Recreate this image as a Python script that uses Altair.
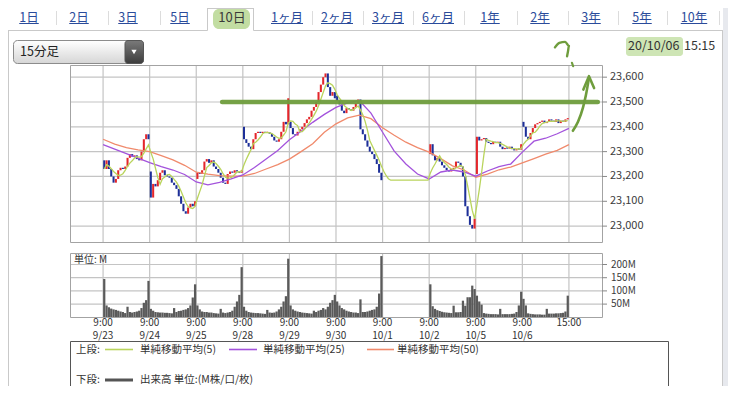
import altair as alt
import numpy as np
import pandas as pd

# ------------------------------------------------------------------ data
dates = ["9/23", "9/24", "9/25", "9/28", "9/29", "9/30", "10/1", "10/2", "10/5", "10/6"]
BARS_PER_DAY = 20  # 15-minute bars, 9:00-11:30 and 12:30-15:00

# opening price of the first bar of each day
day_open = [23265, 23220, 23190, 23400, 23420, 23525, 23185, 23290, 23210, 23420]

close_0923 = [23230, 23265, 23230, 23200, 23175, 23190, 23225, 23235, 23230, 23240,
              23275, 23290, 23280, 23285, 23270, 23265, 23300, 23350, 23370, 23350]
close_0924 = [23115, 23170, 23160, 23185, 23215, 23225, 23205, 23200, 23195, 23175,
              23165, 23150, 23120, 23090, 23060, 23050, 23075, 23090, 23080, 23100]
close_0925 = [23215, 23210, 23225, 23260, 23270, 23255, 23265, 23240, 23230, 23215,
              23195, 23175, 23170, 23210, 23220, 23215, 23225, 23220, 23215, 23225]
close_0928 = [23350, 23335, 23320, 23310, 23350, 23375, 23380, 23375, 23380, 23375,
              23378, 23372, 23360, 23345, 23340, 23350, 23380, 23420, 23410, 23515]
close_0929 = [23395, 23370, 23365, 23380, 23390, 23400, 23415, 23430, 23440, 23465,
              23480, 23500, 23540, 23570, 23600, 23615, 23560, 23525, 23540, 23515]
close_0930 = [23505, 23490, 23465, 23455, 23475, 23470, 23465, 23480, 23495, 23510,
              23390, 23370, 23345, 23320, 23300, 23290, 23270, 23250, 23215, 23185]
close_1001 = [23185, 23185, 23185, 23185, 23185, 23185, 23185, 23185, 23185, 23185,
              23185, 23185, 23185, 23185, 23185, 23185, 23185, 23185, 23185, 23185]
close_1002 = [23330, 23285, 23265, 23275, 23260, 23245, 23235, 23225, 23220, 23230,
              23235, 23260, 23255, 23240, 23200, 23080, 23040, 23005, 22990, 23030]
close_1005 = [23360, 23345, 23350, 23355, 23340, 23335, 23330, 23340, 23335, 23340,
              23320, 23310, 23315, 23312, 23320, 23310, 23305, 23310, 23308, 23330]
close_1006 = [23400, 23360, 23350, 23375, 23395, 23410, 23415, 23420, 23425, 23415,
              23420, 23430, 23425, 23420, 23430, 23415, 23425, 23420, 23430, 23435]

# volume in millions
vol_0923 = [145, 45, 38, 33, 30, 28, 25, 22, 20, 16, 40, 20, 18, 20, 22, 25, 35, 55, 65, 138]
vol_0924 = [32, 25, 20, 19, 18, 18, 17, 17, 16, 15, 35, 20, 24, 25, 28, 30, 35, 45, 75, 125]
vol_0925 = [45, 30, 22, 20, 20, 18, 18, 16, 15, 14, 32, 18, 16, 18, 20, 25, 40, 60, 85, 190]
vol_0928 = [40, 25, 20, 18, 17, 16, 16, 15, 14, 13, 28, 18, 17, 18, 22, 30, 40, 60, 80, 222]
vol_0929 = [45, 30, 25, 22, 20, 18, 17, 16, 15, 14, 25, 20, 25, 28, 35, 30, 40, 55, 65, 85]
vol_0930 = [60, 45, 35, 30, 25, 22, 20, 18, 18, 16, 68, 20, 20, 22, 25, 28, 30, 40, 90, 232]
vol_1001 = [0, 0, 0, 0, 0, 0, 0, 0, 0, 0, 0, 0, 0, 0, 0, 0, 0, 0, 0, 0]
vol_1002 = [125, 42, 32, 27, 24, 21, 19, 18, 17, 16, 44, 19, 19, 20, 63, 44, 76, 76, 120, 107]
vol_1005 = [82, 60, 48, 16, 14, 13, 12, 12, 12, 11, 32, 12, 12, 12, 12, 13, 14, 20, 45, 97]
vol_1006 = [70, 45, 15, 13, 12, 11, 11, 11, 10, 10, 32, 14, 14, 14, 15, 15, 16, 17, 22, 82]

# moving averages read every 5 bars
SMA_STEP = 5
sma25 = [23328, 23310, 23292, 23274, 23256, 23240, 23226, 23208, 23178, 23166,
         23176, 23190, 23206, 23236, 23270, 23305, 23348, 23382, 23418, 23450,
         23478, 23496, 23506, 23455, 23378, 23302, 23250, 23210, 23190, 23218,
         23226, 23218, 23201, 23222, 23240, 23250, 23298, 23342, 23354, 23372, 23394]
sma50 = [23350, 23330, 23316, 23307, 23300, 23284, 23267, 23245, 23217, 23209,
         23203, 23201, 23201, 23212, 23230, 23248, 23270, 23300, 23332, 23378,
         23412, 23436, 23447, 23433, 23396, 23366, 23338, 23316, 23298, 23272,
         23243, 23226, 23197, 23209, 23227, 23238, 23255, 23272, 23290, 23305, 23328]

price_ticks = [23000, 23100, 23200, 23300, 23400, 23500, 23600]
vol_ticks = [50, 100, 150, 200]
vol_tick_labels = ["50M", "100M", "150M", "200M"]

tabs = ["1日", "2日", "3日", "5日", "10日", "1ヶ月", "2ヶ月", "3ヶ月", "6ヶ月",
        "1年", "2年", "3年", "5年", "10年"]
selected_tab = "10日"

# hand-drawn annotation (bar index, price)
note_line_idx = [51.1, 212.4]
note_line_price = [23500, 23500]
arrow_idx = [201.7, 203.9, 206.0, 207.3, 208.6]
arrow_price = [23384, 23420, 23476, 23528, 23596]
arrowhead_idx = [206.2, 208.6, 210.8]
arrowhead_price = [23550, 23604, 23556]
qmark_idx = [194.0, 195.9, 198.4, 200.0, 199.6, 199.2]
qmark_price = [23720, 23738, 23742, 23726, 23704, 23684]
dot_idx = [201.3, 201.8]
dot_price = [23658, 23644]

# ------------------------------------------------------------------ tables
closes = [close_0923, close_0924, close_0925, close_0928, close_0929,
          close_0930, close_1001, close_1002, close_1005, close_1006]
vols = [vol_0923, vol_0924, vol_0925, vol_0928, vol_0929,
        vol_0930, vol_1001, vol_1002, vol_1005, vol_1006]
rows = []
for d in range(len(dates)):
    for b in range(BARS_PER_DAY):
        o = day_open[d] if b == 0 else closes[d][b - 1]
        rows.append({"i": d * BARS_PER_DAY + b, "o": o, "c": closes[d][b], "v": vols[d][b]})
bars = pd.DataFrame(rows)
bars["sma5"] = bars["c"].rolling(5, min_periods=1).mean()
bars["xc"] = bars["i"] + 0.5
bars["x0"] = bars["i"] + 0.06
bars["x1"] = bars["i"] + 0.94
bars["vx0"] = bars["i"] + 0.02
bars["vx1"] = bars["i"] + 0.98
bars["dir"] = np.where(bars["c"] >= bars["o"], "up", "down")
bars["lo"] = np.minimum(bars["o"], bars["c"])
bars["hi"] = np.maximum(np.maximum(bars["o"], bars["c"]), bars["lo"] + 5)
traded = bars[bars["v"] > 0]

sma_df = pd.DataFrame({"x": [k * SMA_STEP for k in range(len(sma25))], "s25": sma25, "s50": sma50})
n_days = len(dates)
xlab = pd.DataFrame({"i": [d * BARS_PER_DAY for d in range(n_days + 1)],
                     "t": ["9:00"] * n_days + ["15:00"],
                     "d": dates + [""]})
pt_df = pd.DataFrame({"v": price_ticks})
vt_df = pd.DataFrame({"v": vol_ticks, "t": vol_tick_labels})

# ------------------------------------------------------------------ styles
F = "Noto Sans CJK JP"
C_UP, C_DN = "#e4262b", "#1d2f98"
C5, C25, C50 = "#b9d45c", "#a353dc", "#f08a6c"
GRID = "#c4c4c4"
GREEN = "#6f9d3d"

X = alt.Scale(domain=[-14.2, 214.2], range=[62, 594], nice=False, zero=False)
YP = alt.Scale(domain=[22936, 23649], range=[234, 57], nice=False, zero=False)
YV = alt.Scale(domain=[0, 243.6], range=[309.3, 245], nice=False, zero=False)

one = pd.DataFrame({"k": [0]})


def xq(f):
    return alt.X(f, type="quantitative", scale=X, axis=None)


def yp(f):
    return alt.Y(f, type="quantitative", scale=YP, axis=None)


def yv(f):
    return alt.Y(f, type="quantitative", scale=YV, axis=None)


def rect(x, x2, y, y2, **kw):
    return alt.Chart(one).mark_rect(**kw).encode(
        x=alt.value(x), x2=alt.value(x2), y=alt.value(y), y2=alt.value(y2))


def hline(x, x2, y, **kw):
    return alt.Chart(one).mark_rule(**kw).encode(x=alt.value(x), x2=alt.value(x2), y=alt.value(y))


def vline(x, y, y2, **kw):
    return alt.Chart(one).mark_rule(**kw).encode(x=alt.value(x), y=alt.value(y), y2=alt.value(y2))


def text(x, y, s, **kw):
    kw.setdefault("font", F)
    kw.setdefault("baseline", "middle")
    return alt.Chart(one).mark_text(text=s, **kw).encode(x=alt.value(x), y=alt.value(y))


def path(xs, ps, **kw):
    df = pd.DataFrame({"x": xs, "p": ps, "o": list(range(len(xs)))})
    return alt.Chart(df).mark_line(strokeCap="round", strokeJoin="round", **kw).encode(
        x=xq("x"), y=yp("p"), order=alt.Order("o:Q"))


def text_w(s, fs):
    return sum(0.56 * fs if ch.isascii() else fs for ch in s)


L = []

# ---------------- page chrome
L.append(rect(715, 720, 0, 378, fill="#e7e9ee"))
L.append(vline(714.5, 22, 378, color="#c9c9c9"))
L.append(vline(0.5, 22, 378, color="#c9c9c9"))
L.append(hline(0, 199.5, 22.5, color="#c9c9c9"))
L.append(hline(245.5, 714.5, 22.5, color="#c9c9c9"))

TAB_CENTERS_PX = [21, 71, 120, 172, 224, 279, 329, 380, 430, 482, 532, 583, 634, 686]
SEPARATORS_PX = [48, 100, 152, 304, 355, 405, 456, 509, 560, 610, 659, 711]
for sx in SEPARATORS_PX:
    L.append(vline(sx + 0.5, 3, 17, color="#dcdcdc"))
# selected tab box + marker highlight
L.append(vline(199.5, 0, 22.5, color="#c9c9c9"))
L.append(vline(245.5, 0, 22.5, color="#c9c9c9"))
L.append(hline(199.5, 245.5, 0.5, color="#c9c9c9"))
L.append(rect(205, 242, 1, 21, fill="#b3d58b", opacity=0.8, cornerRadius=6))
for lab, cx in zip(tabs, TAB_CENTERS_PX):
    fs = 12.5
    if lab == selected_tab:
        L.append(text(cx, 10, lab, fontSize=13, color="#3a3a3a", align="center"))
    else:
        L.append(text(cx, 10, lab, fontSize=fs, color="#2a4b9b", align="center"))
        w = text_w(lab, fs) / 2
        L.append(hline(cx - w, cx + w, 15.5, color="#2a4b9b", strokeWidth=1))

# dropdown
grad_light = alt.Gradient(gradient="linear", x1=0, x2=0, y1=0, y2=1,
                          stops=[alt.GradientStop(color="#ffffff", offset=0),
                                 alt.GradientStop(color="#d6d6d6", offset=1)])
grad_dark = alt.Gradient(gradient="linear", x1=0, x2=0, y1=0, y2=1,
                         stops=[alt.GradientStop(color="#7a7a7a", offset=0),
                                alt.GradientStop(color="#3c3c3c", offset=1)])
L.append(rect(5.5, 135.5, 32.5, 55.5, fill=grad_light, stroke="#8c8c8c", cornerRadius=4))
L.append(rect(117, 135.5, 32.5, 55.5, fill=grad_dark, stroke="#555555", cornerRadius=3))
L.append(alt.Chart(one).mark_point(shape="triangle-down", filled=True, size=28, color="#ffffff",
                                   opacity=1).encode(x=alt.value(126), y=alt.value(44)))
L.append(text(12, 44, "15分足", fontSize=12.5, color="#222222", align="left"))

# timestamp
L.append(rect(618, 675, 29, 48, fill="#c9e2ad", opacity=0.9, cornerRadius=3))
L.append(text(620, 38, "20/10/06", fontSize=12.5, color="#333333", align="left"))
L.append(text(676, 38, "15:15", fontSize=12.5, color="#333333", align="left"))

# ---------------- price panel
L.append(rect(62, 594, 57, 234, fill="#ffffff"))
L.append(alt.Chart(pt_df).mark_rule(color=GRID, strokeWidth=1.2).encode(
    y=yp("v"), x=alt.value(62), x2=alt.value(594)))
L.append(alt.Chart(xlab).mark_rule(color=GRID, strokeWidth=1.2).encode(
    x=xq("i"), y=alt.value(57), y2=alt.value(234)))
L.append(rect(62.5, 594.5, 57.5, 234.5, fillOpacity=0, stroke="#a3a3a3", strokeWidth=1))
L.append(alt.Chart(traded).mark_rect().encode(
    x=xq("x0"), x2=alt.X2("x1"), y=yp("lo"), y2=alt.Y2("hi"),
    color=alt.Color("dir:N", scale=alt.Scale(domain=["up", "down"], range=[C_UP, C_DN]), legend=None)))
L.append(alt.Chart(sma_df).mark_line(color=C50, strokeWidth=1.3).encode(x=xq("x"), y=yp("s50")))
L.append(alt.Chart(sma_df).mark_line(color=C25, strokeWidth=1.3).encode(x=xq("x"), y=yp("s25")))
L.append(alt.Chart(bars).mark_line(color=C5, strokeWidth=1.3).encode(x=xq("xc"), y=yp("sma5")))
L.append(alt.Chart(pt_df).mark_rule(color="#888888").encode(
    y=yp("v"), x=alt.value(594), x2=alt.value(599)))
L.append(alt.Chart(pt_df).mark_text(font=F, fontSize=11, color="#3c3c3c", align="left",
                                    baseline="middle").encode(
    y=yp("v"), x=alt.value(602), text=alt.Text("v:Q", format=",")))

# ---------------- volume panel
L.append(alt.Chart(vt_df).mark_rule(color=GRID, strokeWidth=1.2).encode(
    y=yv("v"), x=alt.value(62), x2=alt.value(594)))
L.append(alt.Chart(xlab).mark_rule(color=GRID, strokeWidth=1.2).encode(
    x=xq("i"), y=alt.value(245), y2=alt.value(309)))
L.append(alt.Chart(traded).mark_rect(color="#5a5a5a").encode(
    x=xq("vx0"), x2=alt.X2("vx1"), y=yv("v"), y2=alt.value(309.3)))
L.append(rect(62.5, 594.5, 245.5, 309.5, fillOpacity=0, stroke="#a3a3a3", strokeWidth=1))
L.append(alt.Chart(vt_df).mark_rule(color="#888888").encode(
    y=yv("v"), x=alt.value(594), x2=alt.value(599)))
L.append(alt.Chart(vt_df).mark_text(font=F, fontSize=10, color="#3c3c3c", align="left",
                                    baseline="middle").encode(
    y=yv("v"), x=alt.value(603), text="t:N"))
L.append(text(66, 252, "単位: M", fontSize=10, color="#333333", align="left"))

# x labels
L.append(alt.Chart(xlab).mark_text(font=F, fontSize=10, color="#333333", baseline="middle").encode(
    x=xq("i"), y=alt.value(315), text="t:N"))
L.append(alt.Chart(xlab).mark_text(font=F, fontSize=10, color="#333333", baseline="middle").encode(
    x=xq("i"), y=alt.value(327.5), text="d:N"))

# ---------------- legend box
L.append(rect(62.5, 660.5, 333.5, 384.5, fill="#ffffff", stroke="#555555", strokeWidth=1))
L.append(text(68, 341.5, "上段:", fontSize=10.5, color="#333333", align="left"))
L.append(hline(97, 125, 341.5, color=C5, strokeWidth=1.6))
L.append(text(132, 341.5, "単純移動平均(5)", fontSize=10.5, color="#333333", align="left"))
L.append(hline(221, 249, 341.5, color=C25, strokeWidth=1.6))
L.append(text(255, 341.5, "単純移動平均(25)", fontSize=10.5, color="#333333", align="left"))
L.append(hline(359, 386, 341.5, color=C50, strokeWidth=1.6))
L.append(text(389, 341.5, "単純移動平均(50)", fontSize=10.5, color="#333333", align="left"))
L.append(text(68, 372, "下段:", fontSize=10.5, color="#333333", align="left"))
L.append(hline(97, 125, 372, color="#555555", strokeWidth=3))
L.append(text(132, 372, "出来高 単位:(M株/口/枚)", fontSize=10.5, color="#333333", align="left"))

# ---------------- hand-drawn annotation
L.append(path(note_line_idx, note_line_price, color=GREEN, strokeWidth=4.5, opacity=0.95))
L.append(path(arrow_idx, arrow_price, color=GREEN, strokeWidth=2.6, interpolate="monotone"))
L.append(path(arrowhead_idx, arrowhead_price, color=GREEN, strokeWidth=2.6))
L.append(path(qmark_idx, qmark_price, color=GREEN, strokeWidth=2.4, interpolate="monotone"))
L.append(path(dot_idx, dot_price, color=GREEN, strokeWidth=2.2))

chart = alt.layer(*L).resolve_scale(x="independent", y="independent", color="independent").properties(
    width=720, height=378, autosize="none", padding=0
).configure_view(strokeWidth=0)

chart.save("out.html", embed_options={"renderer": "svg", "actions": False})
